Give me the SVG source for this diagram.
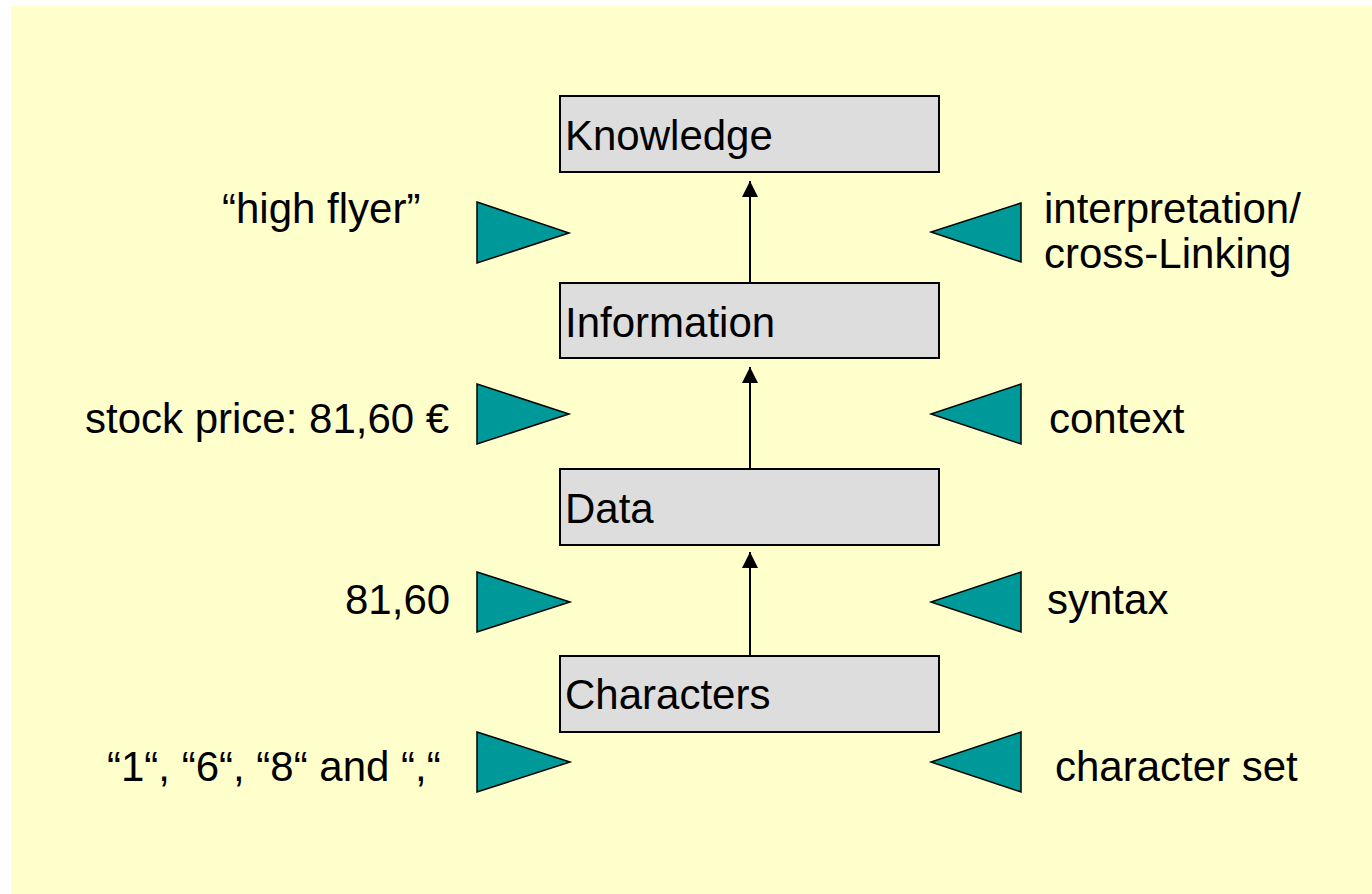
<svg xmlns="http://www.w3.org/2000/svg" width="1372" height="894" viewBox="0 0 1372 894">
<defs>
<style>
.bg{fill:#ffffcc}
.box{fill:#dddddd;stroke:#000;stroke-width:2}
.tri{fill:#009999;stroke:#000;stroke-width:1.5}
.t{font-family:"Liberation Sans",Arial,sans-serif;font-size:42px;fill:#000}
.conn{stroke:#000;stroke-width:2;fill:none}
</style>
<marker id="ah" viewBox="0 0 16 16" refX="16" refY="8" markerWidth="16" markerHeight="16" markerUnits="userSpaceOnUse" orient="auto">
<path d="M0,0 L16,8 L0,16 z" fill="#000"/>
</marker>
</defs>
<rect class="bg" x="11" y="6" width="1361" height="888"/>
<g id="connectors">
<path class="conn" d="M750,287 L750,181" marker-end="url(#ah)"/>
<path class="conn" d="M750,474 L750,367" marker-end="url(#ah)"/>
<path class="conn" d="M750,656 L750,552" marker-end="url(#ah)"/>
</g>
<g id="knowledge"><rect class="box" x="560" y="96" width="379" height="76"/><text class="t" x="565" y="150">Knowledge</text></g>
<g id="information"><rect class="box" x="560" y="283" width="379" height="75"/><text class="t" x="565" y="337">Information</text></g>
<g id="data"><rect class="box" x="560" y="469" width="379" height="76"/><text class="t" x="565" y="523">Data</text></g>
<g id="characters"><rect class="box" x="560" y="656" width="379" height="76"/><text class="t" x="565" y="709">Characters</text></g>
<g id="row1-left"><polygon class="tri" points="477,202 569,233 477,263"/><text class="t" x="222" y="223">“high flyer”</text></g>
<g id="row1-right"><polygon class="tri" points="1021,203 931,232 1021,262"/><text class="t" x="1044" y="223">interpretation/</text><text class="t" x="1044" y="268">cross-Linking</text></g>
<g id="row2-left"><polygon class="tri" points="477,384 569,414 477,444"/><text class="t" x="85" y="433">stock price: 81,60 €</text></g>
<g id="row2-right"><polygon class="tri" points="1021,384 931,414 1021,444"/><text class="t" x="1049" y="433">context</text></g>
<g id="row3-left"><polygon class="tri" points="477,572 570,602 477,632"/><text class="t" x="345" y="614">81,60</text></g>
<g id="row3-right"><polygon class="tri" points="1021,572 931,602 1021,632"/><text class="t" x="1047" y="614">syntax</text></g>
<g id="row4-left"><polygon class="tri" points="477,732 570,762 477,792"/><text class="t" x="107" y="781">“1“, “6“, “8“ and “,“</text></g>
<g id="row4-right"><polygon class="tri" points="1021,732 931,762 1021,792"/><text class="t" x="1055" y="781">character set</text></g>
</svg>
